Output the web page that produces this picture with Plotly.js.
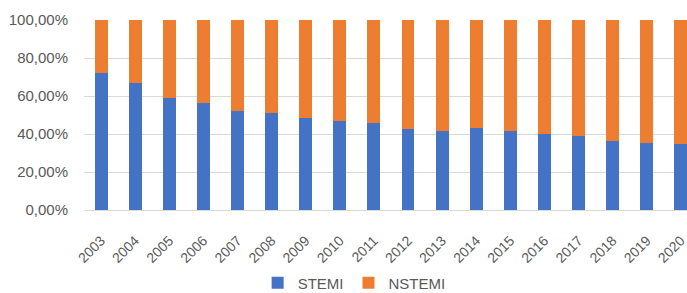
<!DOCTYPE html>
<html>
<head>
<meta charset="utf-8">
<script src="https://cdn.plot.ly/plotly-3.0.1.min.js"></script>
<style>html,body{margin:0;padding:0;background:#fff;}#chart{width:687px;height:293px;}</style>
</head>
<body>
<div id="chart"></div>
<script>
const years = ["2003","2004","2005","2006","2007","2008","2009","2010","2011","2012","2013","2014","2015","2016","2017","2018","2019","2020"];
const stemi = [72.0, 66.7, 58.8, 56.1, 52.1, 50.9, 48.6, 46.8, 45.8, 42.5, 41.6, 43.3, 41.6, 39.8, 38.9, 36.3, 35.4, 34.6];
const nstemi = stemi.map(v => +(100 - v).toFixed(1));
const yTicks = [0, 20, 40, 60, 80, 100];
const yTickText = ["0,00%", "20,00%", "40,00%", "60,00%", "80,00%", "100,00%"];

const font = {family: "Liberation Sans, Arial, sans-serif", size: 15, color: "#595959"};
const xFont = {family: "Liberation Sans, Arial, sans-serif", size: 14, color: "#595959"};

const traces = [
  {type: "bar", name: "STEMI", x: years, y: stemi, marker: {color: "#4472C4"}},
  {type: "bar", name: "NSTEMI", x: years, y: nstemi, marker: {color: "#ED7D31"}}
];

const layout = {
  width: 687, height: 293,
  margin: {l: 84, r: 0, t: 20, b: 83, pad: 0, autoexpand: false},
  paper_bgcolor: "#fff", plot_bgcolor: "#fff",
  barmode: "stack", bargap: 0.62,
  font: font,
  showlegend: true,
  legend: {orientation: "h", x: 0.448, xanchor: "center", y: -0.384, yanchor: "middle",
           font: font, traceorder: "normal", itemwidth: 30, borderwidth: 0},
  xaxis: {type: "category", range: [-0.5, 17.18], tickangle: -45, ticks: "outside",
          ticklen: 16, tickcolor: "rgba(0,0,0,0)", showgrid: false, zeroline: false,
          showline: false, tickfont: xFont, fixedrange: true, automargin: false},
  yaxis: {range: [0, 100], tickvals: yTicks, ticktext: yTickText, ticks: "outside",
          ticklen: 12, tickcolor: "rgba(0,0,0,0)", showgrid: true, gridcolor: "#D9D9D9",
          gridwidth: 1, zeroline: true, zerolinecolor: "#D9D9D9", zerolinewidth: 1,
          showline: false, tickfont: font, fixedrange: true, automargin: false}
};

Plotly.newPlot("chart", traces, layout, {displayModeBar: false, staticPlot: true});
</script>
</body>
</html>
